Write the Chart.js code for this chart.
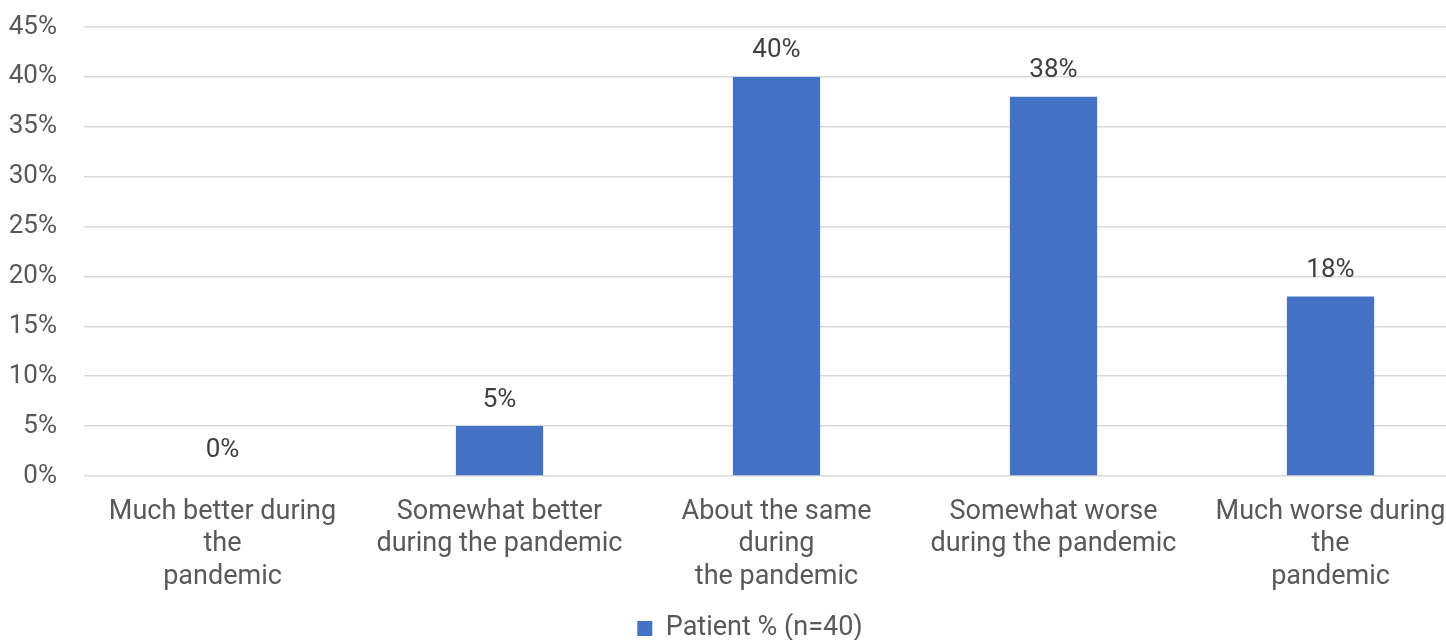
<!DOCTYPE html>
<html>
<head>
<meta charset="utf-8">
<script src="https://cdn.jsdelivr.net/npm/chart.js@4.4.1/dist/chart.umd.min.js"></script>
<style>
  html, body { margin: 0; padding: 0; background: #ffffff; overflow: hidden; }
  #wrap { position: relative; width: 1500px; height: 640px; }
</style>
</head>
<body>
<div id="wrap"><canvas id="chart"></canvas></div>
<script>
// Categories (multi-line labels) and values in percent
const categories = [
  ["Much better during", "the", "pandemic"],
  ["Somewhat better", "during the pandemic"],
  ["About the same", "during", "the pandemic"],
  ["Somewhat worse", "during the pandemic"],
  ["Much worse during", "the", "pandemic"]
];
const patientPct = [0, 5, 40, 38, 18];
const seriesName = "Patient % (n=40)";
const yMin = 0, yMax = 45, yStep = 5;

const FONT = "Roboto, 'DejaVu Sans', sans-serif";
const FS = 27;      // category and legend text
const NUM_FS = 26;  // axis numbers and value labels
const BLUE = "#4472C4";

// Draws the value above each bar
const valueLabels = {
  id: 'valueLabels',
  afterDatasetsDraw(chart) {
    const ctx = chart.ctx;
    ctx.save();
    ctx.font = NUM_FS + "px " + FONT;
    ctx.fillStyle = "#404040";
    ctx.textAlign = "center";
    ctx.textBaseline = "middle";
    chart.getDatasetMeta(0).data.forEach((bar, i) => {
      ctx.fillText(patientPct[i] + "%", bar.x, bar.y - 26);
    });
    ctx.restore();
  }
};

// Centres the legend on the full canvas width rather than the padded area
const legendShift = {
  id: 'legendShift',
  afterLayout(chart) {
    const lg = chart.legend;
    if (!lg) return;
    const dx = (chart.width - (lg.right - lg.left)) / 2 - lg.left;
    lg.left += dx;
    lg.right += dx;
  }
};

new Chart(document.getElementById('chart'), {
  type: 'bar',
  data: {
    labels: categories,
    datasets: [{
      label: seriesName,
      data: patientPct,
      backgroundColor: BLUE,
      borderWidth: 0,
      categoryPercentage: 1.0,
      barPercentage: 0.315
    }]
  },
  options: {
    responsive: true,
    maintainAspectRatio: false,
    animation: false,
    layout: { padding: { top: 27, right: 31, bottom: -12, left: 0 } },
    plugins: {
      legend: {
        position: 'bottom',
        labels: {
          boxWidth: 15,
          boxHeight: 15,
          padding: 2,
          color: "#595959",
          font: { family: FONT, size: FS }
        }
      },
      tooltip: { enabled: false }
    },
    scales: {
      x: {
        grid: { display: false, drawTicks: false },
        border: { display: false },
        ticks: {
          color: "#595959",
          padding: 20,
          maxRotation: 0,
          autoSkip: false,
          font: { family: FONT, size: FS, lineHeight: 1.2 }
        },
        afterFit(scale) { scale.height = 137; }
      },
      y: {
        min: yMin,
        max: yMax,
        grid: { color: "#d9d9d9", lineWidth: 1.5, drawTicks: false },
        border: { display: false },
        ticks: {
          stepSize: yStep,
          color: "#595959",
          padding: 27,
          font: { family: FONT, size: NUM_FS },
          callback: v => v + "%"
        },
        afterFit(scale) {
          scale.width = 84;
          scale.paddingTop = 0;
          scale.paddingBottom = 0;
        }
      }
    }
  },
  plugins: [valueLabels, legendShift]
});
</script>
</body>
</html>
